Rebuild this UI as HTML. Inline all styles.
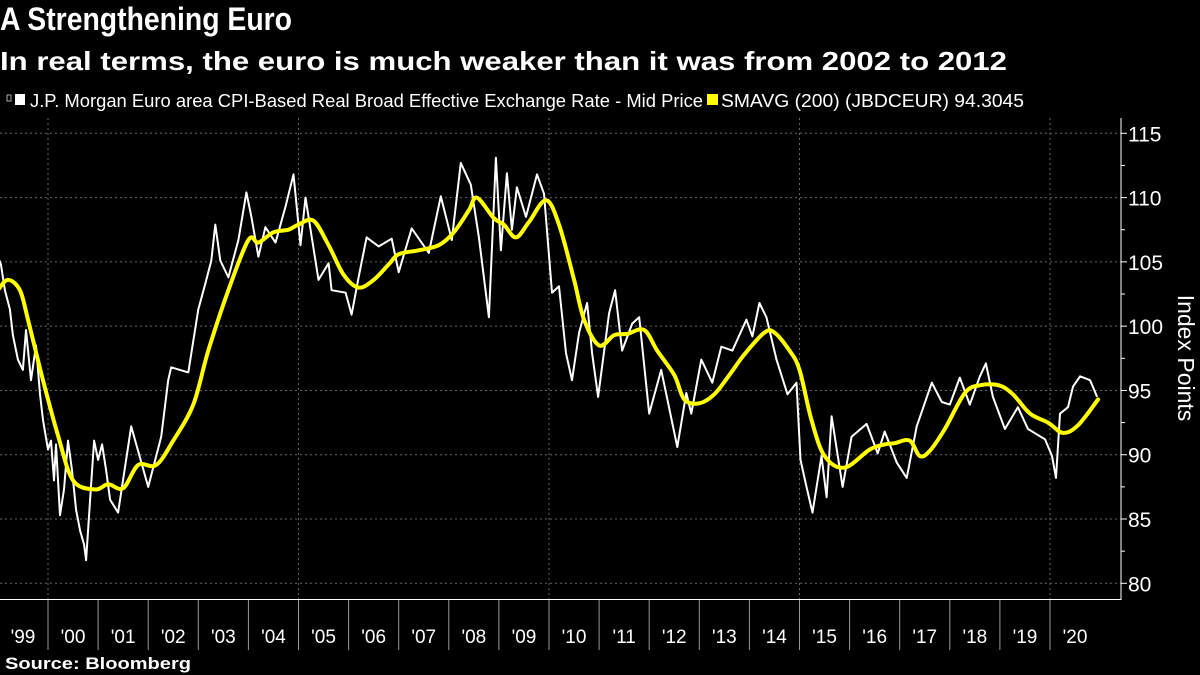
<!DOCTYPE html>
<html><head><meta charset="utf-8"><style>
html,body{margin:0;padding:0;background:#000;width:1200px;height:675px;overflow:hidden}
svg{display:block;font-family:"Liberation Sans",sans-serif}
</style></head><body>
<svg id="chart" width="1200" height="675" viewBox="0 0 1200 675">
<rect x="0" y="0" width="1200" height="675" fill="#000"/>
<text x="0" y="30" font-size="32" font-weight="bold" fill="#fff" textLength="292" lengthAdjust="spacingAndGlyphs">A Strengthening Euro</text>
<text x="0" y="70" font-size="26" font-weight="bold" fill="#fff" textLength="1007" lengthAdjust="spacingAndGlyphs">In real terms, the euro is much weaker than it was from 2002 to 2012</text>
<g>
<rect x="7" y="95" width="4" height="6" fill="none" stroke="#aaa" stroke-width="1"/>
<rect x="15" y="94" width="10" height="11" fill="#fff"/>
<text x="30" y="107" font-size="18" fill="#fff" textLength="673" lengthAdjust="spacingAndGlyphs">J.P. Morgan Euro area CPI-Based Real Broad Effective Exchange Rate - Mid Price</text>
<rect x="707" y="94" width="11" height="11" fill="#ffff00"/>
<text x="721" y="107" font-size="18" fill="#fff" textLength="303" lengthAdjust="spacingAndGlyphs">SMAVG (200) (JBDCEUR) 94.3045</text>
</g>
<g id="grid"></g>
<g id="axes"></g>
<g id="series"></g>
<text x="0" y="0" font-size="23" fill="#fff" transform="translate(1178,358) rotate(90)" text-anchor="middle">Index Points</text>
<text x="5" y="669" font-size="17" font-weight="bold" fill="#fff" textLength="186" lengthAdjust="spacingAndGlyphs">Source: Bloomberg</text>
</svg>
<script>
const yTicks = [80, 85, 90, 95, 100, 105, 110, 115];
const yearLabels = ["'99","'00","'01","'02","'03","'04","'05","'06","'07","'08","'09","'10","'11","'12","'13","'14","'15","'16","'17","'18","'19","'20"];
const priceDates = [1999.00,1999.06,1999.14,1999.24,1999.30,1999.40,1999.50,1999.56,1999.66,1999.76,1999.84,1999.90,2000.00,2000.06,2000.12,2000.16,2000.24,2000.32,2000.40,2000.48,2000.56,2000.64,2000.72,2000.76,2000.84,2000.92,2001.00,2001.08,2001.16,2001.24,2001.40,2001.66,2002.00,2002.26,2002.40,2002.46,2002.80,2003.00,2003.14,2003.26,2003.34,2003.44,2003.60,2003.80,2003.96,2004.06,2004.20,2004.34,2004.54,2004.74,2004.90,2005.04,2005.14,2005.40,2005.60,2005.66,2005.94,2006.06,2006.20,2006.36,2006.60,2006.86,2007.00,2007.26,2007.60,2007.84,2008.06,2008.24,2008.44,2008.60,2008.80,2008.94,2009.04,2009.16,2009.26,2009.36,2009.54,2009.76,2009.90,2010.06,2010.20,2010.34,2010.46,2010.60,2010.76,2010.86,2010.98,2011.20,2011.32,2011.46,2011.66,2011.80,2012.00,2012.24,2012.56,2012.74,2012.84,2013.04,2013.26,2013.44,2013.66,2013.94,2014.06,2014.20,2014.34,2014.54,2014.76,2014.94,2015.02,2015.14,2015.26,2015.44,2015.54,2015.64,2015.86,2016.04,2016.34,2016.56,2016.70,2016.94,2017.14,2017.34,2017.64,2017.84,2018.00,2018.20,2018.40,2018.60,2018.72,2018.86,2019.10,2019.36,2019.56,2019.90,2020.04,2020.12,2020.20,2020.36,2020.46,2020.60,2020.80,2020.94];
const priceValues = [105.4,104.8,102.8,101.3,99.3,97.4,96.6,99.7,95.8,98.5,94.7,92.7,90.4,91.1,88.0,90.8,85.3,87.3,91.1,88.8,85.7,84.1,83.0,81.8,86.5,91.1,89.6,90.8,88.8,86.5,85.5,92.2,87.5,91.4,95.8,96.8,96.4,101.3,103.3,105.1,107.9,105.1,103.8,106.7,110.4,108.5,105.4,107.7,106.5,109.3,111.8,106.3,110.0,103.6,104.9,102.8,102.6,100.9,103.8,106.9,106.2,106.8,104.2,107.6,105.7,110.1,106.7,112.7,111.0,106.9,100.7,113.1,105.9,111.9,107.5,110.8,108.5,111.8,110.3,102.6,103.1,97.9,95.8,99.5,101.8,97.9,94.5,101.0,102.8,98.1,100.2,100.7,93.2,96.6,90.6,94.8,93.2,97.4,95.6,98.4,98.1,100.5,99.2,101.8,100.7,97.4,94.7,95.6,89.6,87.5,85.5,89.9,86.7,93.0,87.5,91.4,92.4,90.1,91.8,89.4,88.2,92.2,95.6,94.1,93.9,96.0,93.9,96.1,97.1,94.5,92.0,93.7,92.0,91.2,89.9,88.2,93.2,93.7,95.3,96.1,95.8,94.5];
const smaDates = [1999.00,1999.20,1999.44,1999.60,1999.90,2000.20,2000.50,2000.94,2001.20,2001.50,2001.80,2002.16,2002.50,2002.90,2003.20,2003.60,2004.00,2004.20,2004.50,2004.80,2005.00,2005.30,2005.60,2005.90,2006.20,2006.50,2006.80,2007.00,2007.40,2007.80,2008.10,2008.40,2008.56,2008.90,2009.10,2009.34,2009.60,2009.94,2010.20,2010.50,2010.70,2011.00,2011.30,2011.56,2011.90,2012.16,2012.50,2012.70,2013.00,2013.30,2013.60,2013.90,2014.30,2014.50,2014.80,2015.00,2015.24,2015.50,2015.90,2016.40,2016.70,2016.90,2017.20,2017.40,2017.60,2017.90,2018.30,2018.60,2018.98,2019.26,2019.60,2019.96,2020.26,2020.56,2020.96];
const smaValues = [102.8,103.6,102.8,100.5,95.8,91.5,88.0,87.3,87.7,87.4,89.2,89.2,91.1,93.9,98.1,102.8,106.7,106.5,107.3,107.5,107.9,108.2,106.3,104.0,103.0,103.6,104.8,105.6,105.9,106.3,107.3,109.0,110.0,108.4,107.9,106.9,108.1,109.8,107.9,103.6,100.5,98.5,99.3,99.4,99.7,98.1,96.2,94.3,94.0,94.7,96.2,97.8,99.5,99.5,98.1,96.6,92.7,89.9,89.0,90.4,90.8,90.9,91.1,89.9,90.3,92.0,94.8,95.4,95.4,94.7,93.2,92.5,91.7,92.3,94.3];

const NS = 'http://www.w3.org/2000/svg';
const plotLeft = 0, plotRight = 1121, plotTop = 118, plotBottom = 600;
function xScale(yr){ return 48 + (yr - 2000) * 50.1; }
function yScale(v){ return 133.3 + (115 - v) * (450 / 35); }
function mk(tag, attrs, parent){ const e = document.createElementNS(NS, tag); for (const k in attrs) e.setAttribute(k, attrs[k]); parent.appendChild(e); return e; }

const grid = document.getElementById('grid');
const axes = document.getElementById('axes');
const series = document.getElementById('series');

yTicks.forEach(t => {
  const y = yScale(t);
  const gl = mk('line', {x1: plotLeft, x2: plotRight, y1: y, y2: y, stroke: '#666', 'stroke-width': 1, 'stroke-dasharray': '2,3'}, grid);
  
  
  const tk = mk('line', {x1: plotRight, x2: plotRight + 6, y1: y, y2: y, stroke: '#fff', 'stroke-width': 1}, axes);
  
  
  const lb = mk('text', {x: plotRight + 7, y: y + 8, 'font-size': 21, fill: '#fff'}, axes);
  lb.textContent = String(t);
  
  
});
for (let i = 0; i < yTicks.length - 1; i++) {
  const y = yScale((yTicks[i] + yTicks[i + 1]) / 2);
  const mt = mk('line', {x1: plotRight, x2: plotRight + 4, y1: y, y2: y, stroke: '#fff', 'stroke-width': 1}, axes);
  
  
}
[2000, 2005, 2010, 2015, 2020].forEach(yr => {
  const x = xScale(yr);
  const vl = mk('line', {x1: x, x2: x, y1: plotTop, y2: plotBottom, stroke: '#666', 'stroke-width': 1, 'stroke-dasharray': '2,3'}, grid);
  
  
});
const ya = mk('line', {x1: plotRight, x2: plotRight, y1: plotTop, y2: plotBottom, stroke: '#fff', 'stroke-width': 1}, axes);


const xa = mk('line', {x1: 0, x2: plotRight, y1: 599.5, y2: 599.5, stroke: '#fff', 'stroke-width': 1}, axes);


yearLabels.forEach((lab, i) => {
  const yr = 1999 + i;
  const t = mk('text', {x: xScale(yr + 0.5), y: 643, 'font-size': 19, fill: '#fff', 'text-anchor': 'middle'}, axes);
  t.textContent = lab;
  
  
  if (i > 0) {
    const sep = mk('line', {x1: xScale(yr), x2: xScale(yr), y1: 600, y2: 650, stroke: '#999', 'stroke-width': 1}, axes);
    
    
  }
});

function path(dates, vals){ return dates.map((d, i) => (i ? 'L' : 'M') + xScale(d).toFixed(1) + ',' + yScale(vals[i]).toFixed(1)).join(''); }
function smoothPath(dates, vals){
  const p = dates.map((d, i) => [xScale(d), yScale(vals[i])]);
  let s = 'M' + p[0][0].toFixed(1) + ',' + p[0][1].toFixed(1);
  for (let i = 0; i < p.length - 1; i++) {
    const p0 = p[Math.max(0, i - 1)], p1 = p[i], p2 = p[i + 1], p3 = p[Math.min(p.length - 1, i + 2)];
    const c1 = [p1[0] + (p2[0] - p0[0]) / 6, p1[1] + (p2[1] - p0[1]) / 6];
    const c2 = [p2[0] - (p3[0] - p1[0]) / 6, p2[1] - (p3[1] - p1[1]) / 6];
    s += 'C' + c1[0].toFixed(1) + ',' + c1[1].toFixed(1) + ' ' + c2[0].toFixed(1) + ',' + c2[1].toFixed(1) + ' ' + p2[0].toFixed(1) + ',' + p2[1].toFixed(1);
  }
  return s;
}
const pl = mk('path', {d: path(priceDates, priceValues), fill: 'none', stroke: '#fff', 'stroke-width': 2, 'stroke-linejoin': 'round'}, series);


const sl = mk('path', {d: smoothPath(smaDates, smaValues), fill: 'none', stroke: '#ffff00', 'stroke-width': 4, 'stroke-linejoin': 'round', 'stroke-linecap': 'round'}, series);


</script>
</body></html>
